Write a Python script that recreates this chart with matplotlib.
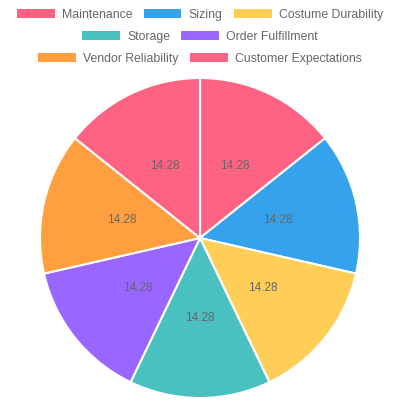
import matplotlib
matplotlib.use("Agg")
import matplotlib.pyplot as plt
from matplotlib.patches import Patch

labels = ["Maintenance", "Sizing", "Costume Durability", "Storage",
          "Order Fulfillment", "Vendor Reliability", "Customer Expectations"]
values = [14.28, 14.28, 14.28, 14.28, 14.28, 14.28, 14.28]
colors = ["#FF6384", "#36A2EB", "#FFCE56", "#4BC0C0", "#9966FF", "#FF9F40", "#FF6384"]
legend_rows = [[0, 1, 2], [3, 4], [5, 6]]

plt.rcParams['font.family'] = ['Liberation Sans', 'DejaVu Sans']

fig = plt.figure(figsize=(4, 4), dpi=100)
ax = fig.add_axes([0.1, 0.005, 0.8, 0.8])
wedges, texts = ax.pie(values, colors=colors, startangle=90, counterclock=False,
                       labels=[f"{v:.2f}" for v in values], labeldistance=0.5,
                       wedgeprops=dict(edgecolor="white", linewidth=1.5),
                       textprops=dict(color="#666666", fontsize=8.5, ha="center", va="center"))
ax.set_aspect("equal")
ax.set_xlim(-1, 1)
ax.set_ylim(-1, 1)

row_y = [1 - 15 / 400, 1 - 37 / 400, 1 - 59 / 400]
for row, y in zip(legend_rows, row_y):
    handles = [Patch(facecolor=colors[i], edgecolor="none") for i in row]
    leg = fig.legend(handles, [labels[i] for i in row], loc="center",
                     bbox_to_anchor=(0.5, y), ncol=len(row), frameon=False,
                     fontsize=8.8, handlelength=3.1, handleheight=0.8,
                     handletextpad=0.6, columnspacing=0.9, borderpad=0,
                     labelcolor="#666666")

fig.savefig("out.png", dpi=100, facecolor="white")
